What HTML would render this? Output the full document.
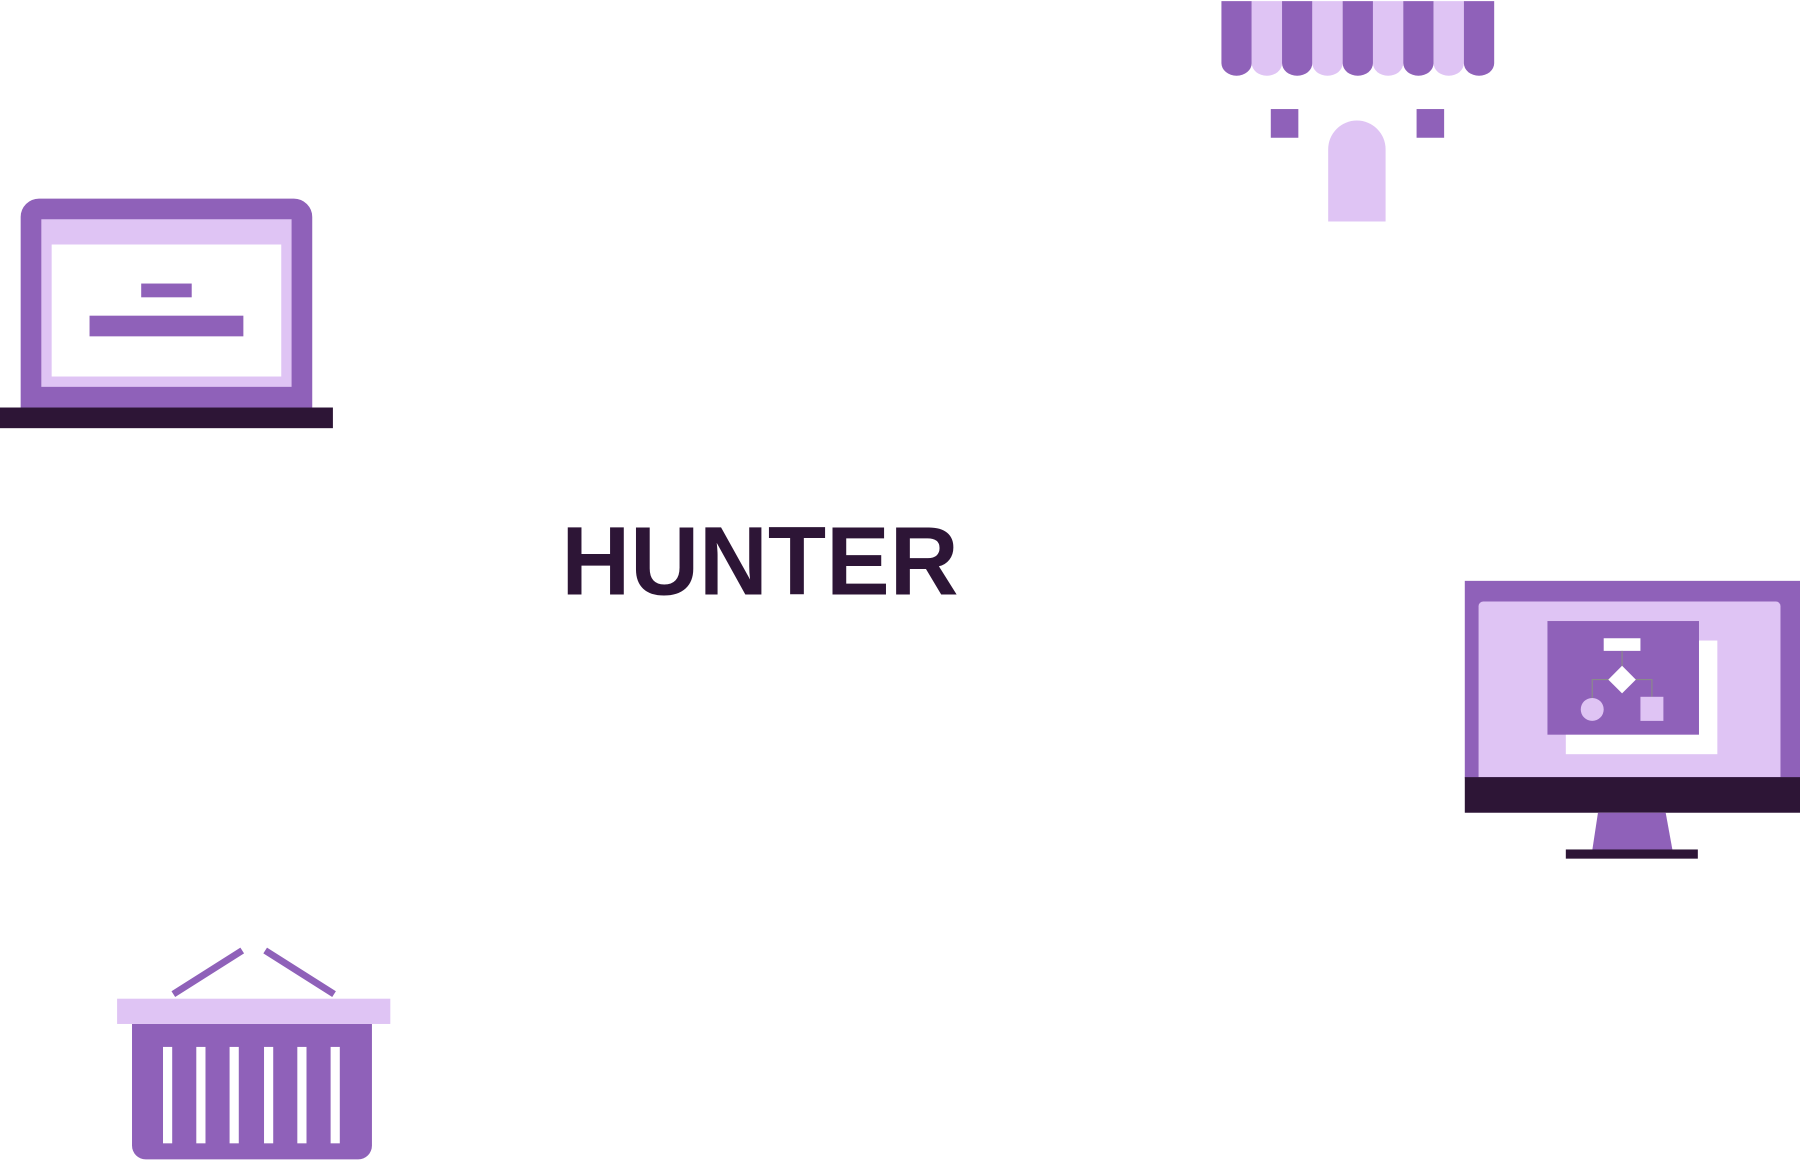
<!DOCTYPE html>
<html><head><style>html,body{margin:0;padding:0;background:#fff}svg{display:block}</style></head>
<body>
<svg width="1800" height="1164" viewBox="0 0 1568 1014" preserveAspectRatio="none" xmlns="http://www.w3.org/2000/svg">
<rect width="1568" height="1014" fill="#fff"/>
<g>
<path d="M1064 1h26.4v54a13.2 11 0 0 1-26.4 0z" fill="#8f61b9"/>
<path d="M1090.4 1h26.4v54a13.2 11 0 0 1-26.4 0z" fill="#dfc4f4"/>
<path d="M1116.8 1h26.4v54a13.2 11 0 0 1-26.4 0z" fill="#8f61b9"/>
<path d="M1143.2 1h26.4v54a13.2 11 0 0 1-26.4 0z" fill="#dfc4f4"/>
<path d="M1169.6 1h26.4v54a13.2 11 0 0 1-26.4 0z" fill="#8f61b9"/>
<path d="M1196 1h26.4v54a13.2 11 0 0 1-26.4 0z" fill="#dfc4f4"/>
<path d="M1222.4 1h26.4v54a13.2 11 0 0 1-26.4 0z" fill="#8f61b9"/>
<path d="M1248.8 1h26.4v54a13.2 11 0 0 1-26.4 0z" fill="#dfc4f4"/>
<path d="M1275.2 1h26.4v54a13.2 11 0 0 1-26.4 0z" fill="#8f61b9"/>
<rect x="1107" y="95" width="24" height="25" fill="#8f61b9"/>
<rect x="1234" y="95" width="24" height="25" fill="#8f61b9"/>
<path d="M1157 193V130a25 25 0 0 1 50 0V193z" fill="#dfc4f4"/>
</g>
<path d="M18 355V189a16 16 0 0 1 16-16H256a16 16 0 0 1 16 16V355z" fill="#8f61b9"/>
<rect x="36" y="191" width="218" height="146" fill="#dfc4f4"/>
<rect x="45" y="213" width="200" height="115" fill="#fff"/>
<rect x="123" y="247" width="44" height="12" fill="#8f61b9"/>
<rect x="78" y="275" width="134" height="18" fill="#8f61b9"/>
<rect x="0" y="355" width="290" height="18" fill="#2d1536"/>
<text x="489" y="518" font-family="Liberation Sans, sans-serif" font-weight="bold" font-size="85" fill="#2d1536" textLength="346" lengthAdjust="spacingAndGlyphs">HUNTER</text>
<rect x="1276" y="506" width="292" height="172" fill="#8f61b9"/>
<path d="M1288 677V528a4 4 0 0 1 4-4H1547a4 4 0 0 1 4 4V677z" fill="#dfc4f4"/>
<rect x="1364" y="558" width="132" height="99" fill="#fff"/>
<rect x="1348" y="541" width="132" height="99" fill="#8f61b9"/>
<rect x="1397" y="556" width="32" height="11" fill="#fff"/>
<path d="M1413 567V582M1387 608V592H1439V608" stroke="#8a8a8a" stroke-width="1" fill="none"/>
<path d="M1413 580L1425 592L1413 604L1401 592z" fill="#fff"/>
<circle cx="1387" cy="618" r="10" fill="#dfc4f4"/>
<rect x="1429" y="607" width="20" height="21" fill="#dfc4f4"/>
<rect x="1276" y="677" width="292" height="31" fill="#2d1536"/>
<path d="M1392 708H1451L1457 741H1387z" fill="#8f61b9"/>
<rect x="1364" y="740" width="115" height="8" fill="#2d1536"/>
<path d="M151 866L211 828M231 828L291 866" stroke="#8f61b9" stroke-width="6"/>
<rect x="102" y="870" width="238" height="22" fill="#dfc4f4"/>
<path d="M115 892H324V998a12 12 0 0 1-12 12H127a12 12 0 0 1-12-12z" fill="#8f61b9"/>
<g fill="#fff">
<rect x="142" y="912" width="8" height="84"/>
<rect x="171" y="912" width="8" height="84"/>
<rect x="200" y="912" width="8" height="84"/>
<rect x="230" y="912" width="8" height="84"/>
<rect x="259" y="912" width="8" height="84"/>
<rect x="288" y="912" width="8" height="84"/>
</g>
</svg>
</body></html>
